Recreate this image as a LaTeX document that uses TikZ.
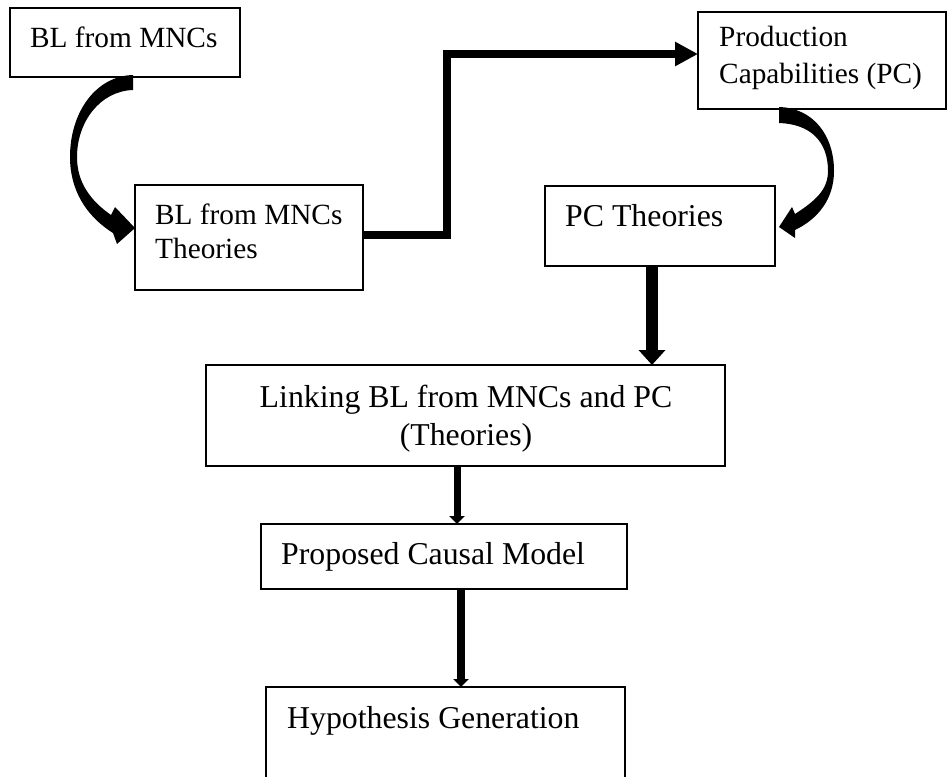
\documentclass[tikz,border=0pt]{standalone}
\usepackage{fontspec}
\setmainfont{Liberation Serif}
\usetikzlibrary{arrows.meta}
\begin{document}
\begin{tikzpicture}[x=1pt, y=-1pt,
  box/.style={draw, line width=1.2pt, rectangle, inner sep=0pt, outer sep=0pt},
  txtsmall/.style={inner sep=0pt, font=\fontsize{29.3pt}{34pt}\selectfont},
  txtlarge/.style={inner sep=0pt, font=\fontsize{31.8pt}{37pt}\selectfont},
  conn/.style n args={3}{line width=#1, -{Triangle[length=#2, width=#3]}},
  curvearrow/.style={fill=black}
]
\useasboundingbox (0,0) rectangle (952,776);
\clip (0,0) rectangle (952,776);
\fill[white] (0,0) rectangle (952,776);

% boxes
\node[box, minimum width=230pt, minimum height=69pt]  (b1)   at (125,42.5)   {};
\node[box, minimum width=228pt, minimum height=105pt] (b2)   at (249,237.5)  {};
\node[box, minimum width=248pt, minimum height=97pt]  (b3)   at (822,60.5)   {};
\node[box, minimum width=230pt, minimum height=80pt]  (pcth) at (660,226)    {};
\node[box, minimum width=519pt, minimum height=101pt] (link) at (465.5,415.5){};
\node[box, minimum width=366pt, minimum height=65pt]  (prop) at (444,556.5)  {};
\node[box, minimum width=359pt, minimum height=113pt] (hyp)  at (445.5,743.5){};

% box texts
\node[txtsmall, anchor=base west] (t1)  at (30,48)   {BL from MNCs};
\node[txtsmall, anchor=base west] (t2a) at (155,224) {BL from MNCs};
\node[txtsmall, anchor=base west] (t2b) at (155,258) {Theories};
\node[txtsmall, anchor=base west] (t3a) at (719,47)  {Production};
\node[txtsmall, anchor=base west] (t3b) at (719,83)  {Capabilities (PC)};
\node[txtlarge, anchor=base west] (t4)  at (565,226) {PC Theories};
\node[txtlarge, anchor=base]      (t5a) at (466,407) {Linking BL from MNCs and PC};
\node[txtlarge, anchor=base]      (t5b) at (466,445) {(Theories)};
\node[txtlarge, anchor=base west] (t6)  at (281,564) {Proposed Causal Model};
\node[txtlarge, anchor=base west] (t7)  at (287,728) {Hypothesis Generation};

% curved block arrow: BL from MNCs -> BL from MNCs Theories
\fill[curvearrow] (133,75) .. controls (96,76) and (70,112) .. (70,157)
  .. controls (70,190) and (86,216) .. (113,233)
  -- (117,244) -- (135,228) -- (115,207) -- (111,215)
  .. controls (91,201) and (77,183) .. (77,157)
  .. controls (77,122) and (100,91) .. (133,90) -- cycle;

% curved block arrow: Production Capabilities -> PC Theories
\fill[curvearrow] (779,107) .. controls (813,108) and (834,135) .. (834,171)
  .. controls (834,199) and (818,219) .. (795,230)
  -- (795,238) -- (779,227) -- (792,207) -- (795,214)
  .. controls (815,201) and (828,190) .. (828,171)
  .. controls (828,141) and (810,124) .. (779,123) -- cycle;

% elbow connector
\coordinate (elbow) at (447,54);
\draw[conn={8pt}{23pt}{23pt}] ([yshift=2.5pt]b2.east) -| (elbow) -- ([yshift=6.5pt]b3.west);

% straight connectors
\draw[conn={12pt}{15pt}{26pt}] ([xshift=-8pt]pcth.south) -- ([xshift=-8pt]pcth.south |- link.north);
\draw[conn={7pt}{8pt}{15pt}] ([xshift=-8.5pt]link.south) -- ([xshift=-8.5pt]link.south |- prop.north);
\draw[conn={7.5pt}{8pt}{15pt}] ([xshift=17pt]prop.south) -- ([xshift=17pt]prop.south |- hyp.north);
\end{tikzpicture}
\end{document}
